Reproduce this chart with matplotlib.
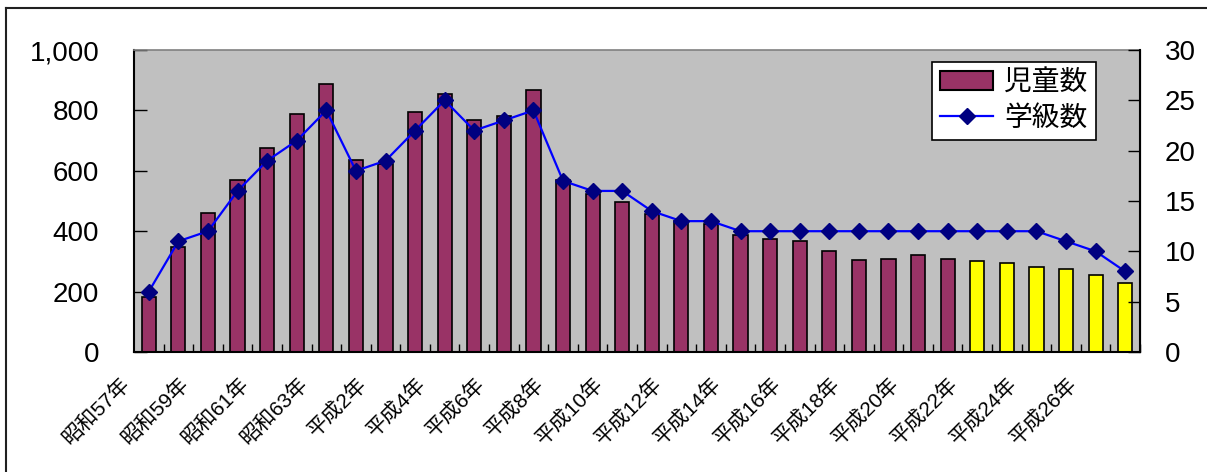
import matplotlib
matplotlib.use("Agg")
import matplotlib.pyplot as plt
import matplotlib.transforms as mtransforms
from matplotlib.lines import Line2D
from matplotlib.patches import Patch
from matplotlib.ticker import FuncFormatter, MultipleLocator, FixedLocator

plt.rcParams['font.family'] = ['Liberation Sans', 'Noto Sans CJK JP', 'DejaVu Sans']

# 年度ラベル（昭和57年〜平成27年）
years = (["昭和%d年" % y for y in range(57, 64)] + ["平成元年"]
         + ["平成%d年" % y for y in range(2, 28)])

# 児童数
children = [183, 349, 461, 568, 674, 787, 887, 635, 621, 795, 855,
            768, 781, 866, 568, 522, 496, 456, 434, 423, 389, 375,
            369, 336, 304, 309, 321, 309, 302, 295, 283, 276, 255, 228]

# 学級数
classes = [6, 11, 12, 16, 19, 21, 24, 18, 19, 22, 25,
           22, 23, 24, 17, 16, 16, 14, 13, 13, 12, 12,
           12, 12, 12, 12, 12, 12, 12, 12, 12, 11, 10, 8]

highlight_from = "平成22年"

BAR_COLOR = "#993366"
HIGHLIGHT = "#FFFF00"
LINE_COLOR = "#0000FF"
MARKER_COLOR = "#000080"

x = list(range(len(years)))
start = years.index(highlight_from)
colors = [BAR_COLOR if i < start else HIGHLIGHT for i in x]

fig = plt.figure(figsize=(12.07, 4.72), dpi=100)
ax = fig.add_axes([134 / 1207, 120 / 472, 1006 / 1207, 302 / 472])
ax.set_facecolor("#C0C0C0")

ax.bar(x, children, width=0.48, color=colors, edgecolor="black", linewidth=1.2, zorder=2)
ax.set_xlim(-0.5, len(years) - 0.5)
ax.set_ylim(0, 1000)
ax.yaxis.set_major_locator(MultipleLocator(200))
ax.yaxis.set_major_formatter(FuncFormatter(lambda v, p: "{:,.0f}".format(v)))
ax.tick_params(axis="y", direction="in", length=9, width=1, pad=25, labelsize=20)

# 目盛は区切り位置、ラベルは隔年
ax.xaxis.set_major_locator(FixedLocator(x[::2]))
ax.set_xticklabels(years[::2])
ax.xaxis.set_minor_locator(FixedLocator([i + 0.5 for i in x]))
ax.tick_params(axis="x", which="major", length=0, pad=21, labelsize=15)
ax.tick_params(axis="x", which="minor", direction="in", length=6, width=1)
shift = mtransforms.ScaledTranslation(-22 / 100, 0, fig.dpi_scale_trans)
for lab in ax.get_xticklabels():
    lab.set_rotation(45)
    lab.set_ha("right")
    lab.set_va("center")
    lab.set_rotation_mode("anchor")
    lab.set_transform(lab.get_transform() + shift)

for side in ("left", "bottom"):
    ax.spines[side].set_color("black")
    ax.spines[side].set_linewidth(1.5)
ax.spines["top"].set_color("#808080")
ax.spines["top"].set_linewidth(1.2)

ax2 = ax.twinx()
ax2.plot(x, classes, color=LINE_COLOR, linewidth=1.6, marker="D", markersize=8,
         markerfacecolor=MARKER_COLOR, markeredgecolor=MARKER_COLOR, zorder=3)
ax2.set_ylim(0, 30)
ax2.yaxis.set_major_locator(MultipleLocator(5))
ax2.tick_params(axis="y", direction="in", length=9, width=1, pad=18, labelsize=20)
ax2.spines["right"].set_color("black")
ax2.spines["right"].set_linewidth(1.5)
ax2.spines["top"].set_visible(False)
ax2.spines["left"].set_visible(False)
ax2.spines["bottom"].set_visible(False)

handles = [Patch(facecolor=BAR_COLOR, edgecolor="black", linewidth=1.5),
           Line2D([], [], color=LINE_COLOR, linewidth=1.6, marker="D", markersize=8,
                  markerfacecolor=MARKER_COLOR, markeredgecolor=MARKER_COLOR)]
leg = ax2.legend(handles, ["児童数", "学級数"], loc="upper right",
                 bbox_to_anchor=(0.956, 0.96), fontsize=20, fancybox=False,
                 framealpha=1, edgecolor="black", handlelength=1.9,
                 handleheight=0.7, handletextpad=0.4, labelspacing=0.35,
                 borderpad=0.3, borderaxespad=0)
leg.get_frame().set_linewidth(1.2)
leg.set_zorder(5)

# 外枠（左と上）
fig.add_artist(Line2D([6 / 1207, 6 / 1207], [0, 1 - 8 / 472], color="#202020", linewidth=1.5))
fig.add_artist(Line2D([6 / 1207, 1], [1 - 8 / 472, 1 - 8 / 472], color="#202020", linewidth=1.5))

fig.savefig("out.png", dpi=100)
